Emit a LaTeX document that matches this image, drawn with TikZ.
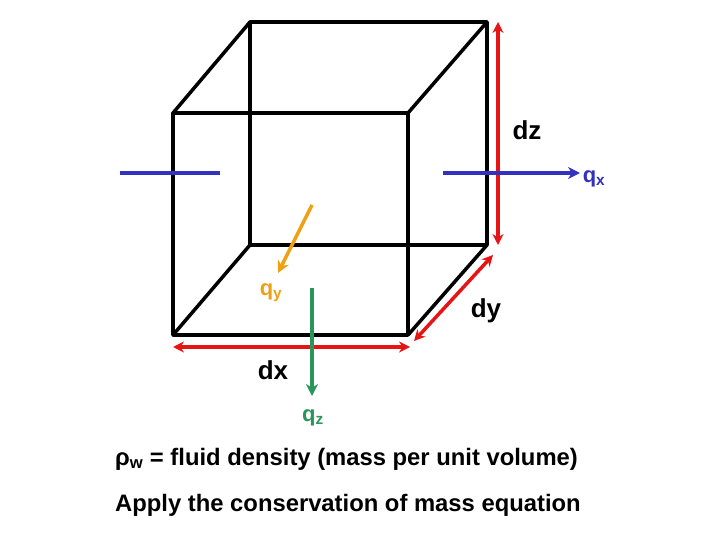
\documentclass[tikz,border=0pt]{standalone}
\usepackage{fontspec}
\setmainfont{Liberation Sans}
\usetikzlibrary{arrows.meta}
\definecolor{cred}{RGB}{230,20,20}
\definecolor{cblue}{RGB}{50,50,190}
\definecolor{corange}{RGB}{240,160,20}
\definecolor{cgreen}{RGB}{40,150,90}
\begin{document}
\begin{tikzpicture}[x=1pt,y=-1pt,
  edge/.style={line width=3.5pt,line cap=round,line join=round},
  dim/.style={line width=3.5pt,cred,{Stealth[length=11pt,width=11pt]}-{Stealth[length=11pt,width=11pt]}},
  flow/.style={line width=3.5pt,-{Stealth[length=12pt,width=12pt]}},
  lbl/.style={font=\bfseries\fontsize{26}{30}\selectfont,inner sep=0pt},
  ql/.style={font=\bfseries\fontsize{22}{26}\selectfont,inner sep=0pt},
  txt/.style={font=\bfseries\fontsize{23.8}{28}\selectfont,inner sep=0pt,anchor=west}]
\useasboundingbox (0,0) rectangle (720,540);
% cube
\coordinate (A) at (173,113); \coordinate (B) at (408,113);
\coordinate (C) at (408,335); \coordinate (D) at (173,335);
\coordinate (E) at (250,22); \coordinate (F) at (487,22);
\coordinate (G) at (487,245); \coordinate (H) at (250,245);
\draw[edge] (A)--(B)--(C)--(D)--cycle;
\draw[edge] (E)--(F)--(G)--(H)--cycle;
\draw[edge] (A)--(E) (B)--(F) (C)--(G) (D)--(H);
% dz
\coordinate (dz1) at (498,22); \coordinate (dz2) at (498,245);
\draw[dim] (dz1)--(dz2);
\node[lbl] (dzl) at (527,130) {dz};
% qx
\coordinate (qxa) at (120,173); \coordinate (qxb) at (220,173);
\draw[line width=3.5pt,cblue] (qxa)--(qxb);
\coordinate (qxc) at (443,173); \coordinate (qxd) at (580,173);
\draw[flow,cblue] (qxc)--(qxd);
\node[ql,cblue] (qxl) at (594,179) {q\textsubscript{x}};
% qy
\coordinate (qya) at (312,205); \coordinate (qyb) at (278,273);
\draw[flow,corange] (qya)--(qyb);
\node[ql,corange] (qyl) at (271,293) {q\textsubscript{y}};
% dy
\coordinate (dy1) at (493,255); \coordinate (dy2) at (414,341);
\draw[dim] (dy1)--(dy2);
\node[lbl] (dyl) at (486,311) {dy};
% dx
\coordinate (dx1) at (173,347); \coordinate (dx2) at (410,347);
\draw[dim] (dx1)--(dx2);
\node[lbl] (dxl) at (273,370) {dx};
% qz
\coordinate (qza) at (312,288); \coordinate (qzb) at (312,396);
\draw[flow,cgreen] (qza)--(qzb);
\node[ql,cgreen] (qzl) at (313,418) {q\textsubscript{z}};
% text
\node[txt] (t1) at (115,459) {ρ\textsubscript{w} = fluid density (mass per unit volume)};
\node[txt] (t2) at (115,505) {Apply the conservation of mass equation};
\end{tikzpicture}
\end{document}
